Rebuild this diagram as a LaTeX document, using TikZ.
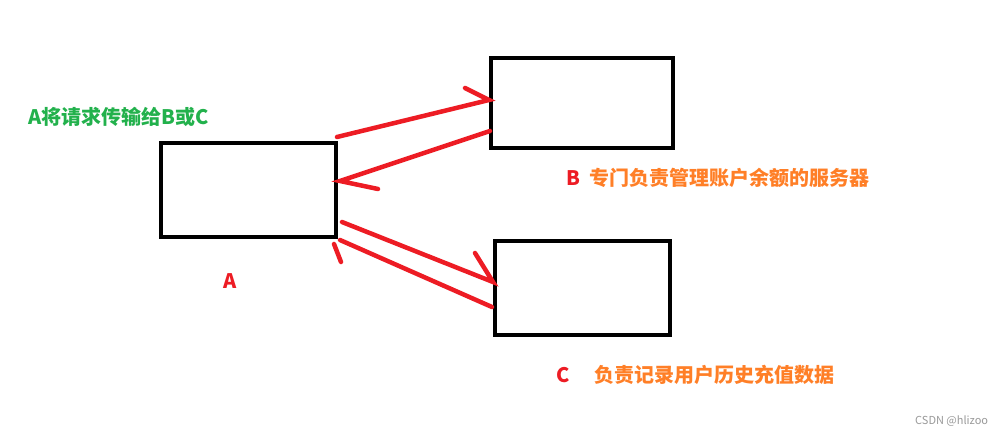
\documentclass[tikz,border=0pt]{standalone}
\usepackage{fontspec}
\setmainfont{Noto Sans CJK SC}
\usepackage{tikz}
\usetikzlibrary{positioning}
\definecolor{paintred}{HTML}{ED1C24}
\definecolor{paintgreen}{HTML}{22B14C}
\definecolor{paintorange}{HTML}{FF7F27}

\begin{document}
\begin{tikzpicture}[
      x=1pt, y=-1pt,
      font=\fontsize{20}{22}\selectfont\bfseries,
      server/.style={draw=black, line width=4pt, minimum width=#1, inner sep=0pt},
      stroke/.style={draw=paintred, line width=4.5pt, line cap=round},
      note/.style={anchor=west, inner sep=0pt},
    ]
    \fill[white] (0,0) rectangle (1003,436);
    \useasboundingbox (0,0) rectangle (1003,436);

    % the three servers
    \node[server=175pt, minimum height=94pt] (A) at (248.5,190) {};
    \node[server=182pt, minimum height=89pt] (B) at (582,103) {};
    \node[server=175pt, minimum height=94pt] (C) at (582,288) {};

    % hand drawn arrow ends
    \coordinate (ab-tip) at (489,100);
    \coordinate (ab-barb) at (465,88);
    \coordinate (ba-tail) at (490,131);
    \coordinate (ba-tip) at (340,181);
    \coordinate (ba-barb) at (378,189);
    \coordinate (ac-tail) at (342,222);
    \coordinate (ac-tip) at (493,282);
    \coordinate (ac-barb) at (475,253);
    \coordinate (ca-tail) at (492,307);
    \coordinate (ca-tip) at (340,240);
    \coordinate (ca-barb1) at (334,244);
    \coordinate (ca-barb2) at (341,262);

    \draw[stroke] (A.north east) ++(-1,-4) -- (ab-tip) -- (ab-barb);
    \draw[stroke] (ba-tail) -- (ba-tip) -- (ba-barb);
    \draw[stroke] (ac-tail) -- (ac-tip) -- (ac-barb);
    \draw[stroke] (ca-tail) -- (ca-tip);
    \draw[stroke] (ca-barb1) -- (ca-barb2);

    % labels
    \node[note, text=paintgreen] (req) at (28,117) {A将请求传输给B或C};
    \node[text=paintred] (labA) at (230,281) {A};
    \node[note] (labB) at (566,178) {\textcolor{paintred}{B}\hspace{9pt}\textcolor{paintorange}{专门负责管理账户余额的服务器}};
    \node[note] (labC) at (556,375) {\textcolor{paintred}{C}\hspace{25pt}\textcolor{paintorange}{负责记录用户历史充值数据}};
    \node[note, text=black!40, font=\fontsize{11}{12}\selectfont] (mark) at (915,421) {CSDN @hlizoo};
  \end{tikzpicture}
\end{document}
